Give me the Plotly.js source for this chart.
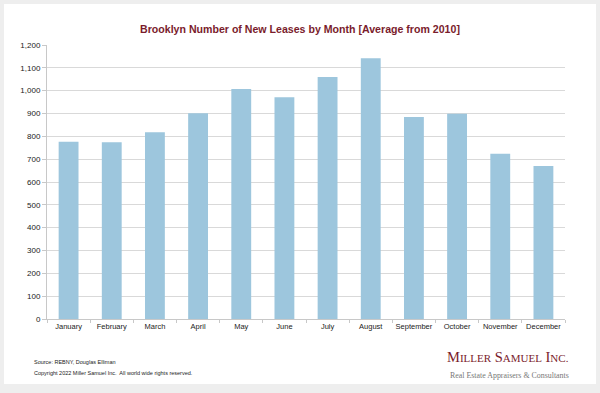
<!DOCTYPE html>
<html><head><meta charset="utf-8">
<script src="https://cdn.plot.ly/plotly-3.0.1.min.js"></script>
<style>
html,body{margin:0;padding:0;background:#eeeeee;width:600px;height:393px;overflow:hidden}
#card{position:absolute;left:4px;top:4px;width:592px;height:380px;background:#fff}
#chart{position:absolute;left:0;top:0;width:600px;height:393px}
</style></head><body>
<div id="card"></div>
<div id="chart"></div>
<script>
const months = ["January","February","March","April","May","June","July","August","September","October","November","December"];
const leases = [776, 774, 818, 901, 1007, 971, 1060, 1142, 885, 899, 724, 670];
const yTicks = [0,100,200,300,400,500,600,700,800,900,1000,1100,1200];

const trace = {
  type: 'bar', x: months, y: leases,
  marker: {color: '#9dc6dd', line: {width: 0}},
  hoverinfo: 'x+y'
};
const layout = {
  width: 600, height: 393,
  paper_bgcolor: 'rgba(0,0,0,0)', plot_bgcolor: 'rgba(0,0,0,0)',
  margin: {l: 47, r: 35, t: 45, b: 74},
  bargap: 0.54,
  showlegend: false,
  title: {text: 'Brooklyn Number of New Leases by Month [Average from 2010]',
    font: {family: 'Liberation Sans, Arial, sans-serif', size: 10.6, color: '#7a1c2c', weight: 'bold'},
    x: 0.5, xanchor: 'center', y: 0.925, yanchor: 'middle'},
  xaxis: {
    type: 'category', showgrid: false, showline: true, linecolor: '#c8c8c8', linewidth: 1,
    ticks: 'outside', tickson: 'boundaries', ticklen: 3, tickcolor: '#c8c8c8',
    tickangle: 0, automargin: false,
    tickfont: {family: 'Liberation Sans, Arial, sans-serif', size: 7.5, color: '#222'},
    fixedrange: true
  },
  yaxis: {
    range: [0, 1200], tickvals: yTicks, tickformat: ',d',
    showgrid: true, gridcolor: '#d9d9d9', gridwidth: 1,
    showline: true, linecolor: '#c8c8c8', linewidth: 1,
    ticks: 'outside', ticklen: 4, tickcolor: '#c8c8c8',
    tickfont: {family: 'Liberation Sans, Arial, sans-serif', size: 8, color: '#222'},
    zeroline: false, fixedrange: true, automargin: false
  },
  annotations: [
    {xref: 'paper', yref: 'paper', x: -0.029, y: -0.157, xanchor: 'left', yanchor: 'middle', showarrow: false,
     text: 'Source: REBNY, Douglas Elliman', font: {family: 'Liberation Sans, Arial, sans-serif', size: 5.5, color: '#222'}},
    {xref: 'paper', yref: 'paper', x: -0.029, y: -0.197, xanchor: 'left', yanchor: 'middle', showarrow: false,
     text: 'Copyright 2022 Miller Samuel Inc.  All world wide rights reserved.', font: {family: 'Liberation Sans, Arial, sans-serif', size: 5.5, color: '#222'}},
    {xref: 'paper', yref: 'paper', x: 1.012, y: -0.138, xanchor: 'right', yanchor: 'middle', showarrow: false,
     text: 'M<span style="font-size:11px">ILLER</span> S<span style="font-size:11px">AMUEL</span> I<span style="font-size:11px">NC.</span>',
     font: {family: 'Liberation Serif, Times New Roman, serif', size: 14.5, color: '#7a1c2c'}},
    {xref: 'paper', yref: 'paper', x: 1.012, y: -0.205, xanchor: 'right', yanchor: 'middle', showarrow: false,
     text: 'Real Estate Appraisers &amp; Consultants',
     font: {family: 'Liberation Serif, Times New Roman, serif', size: 7.9, color: '#777'}}
  ]
};
Plotly.newPlot('chart', [trace], layout, {displayModeBar: false, staticPlot: true});
</script>
</body></html>
